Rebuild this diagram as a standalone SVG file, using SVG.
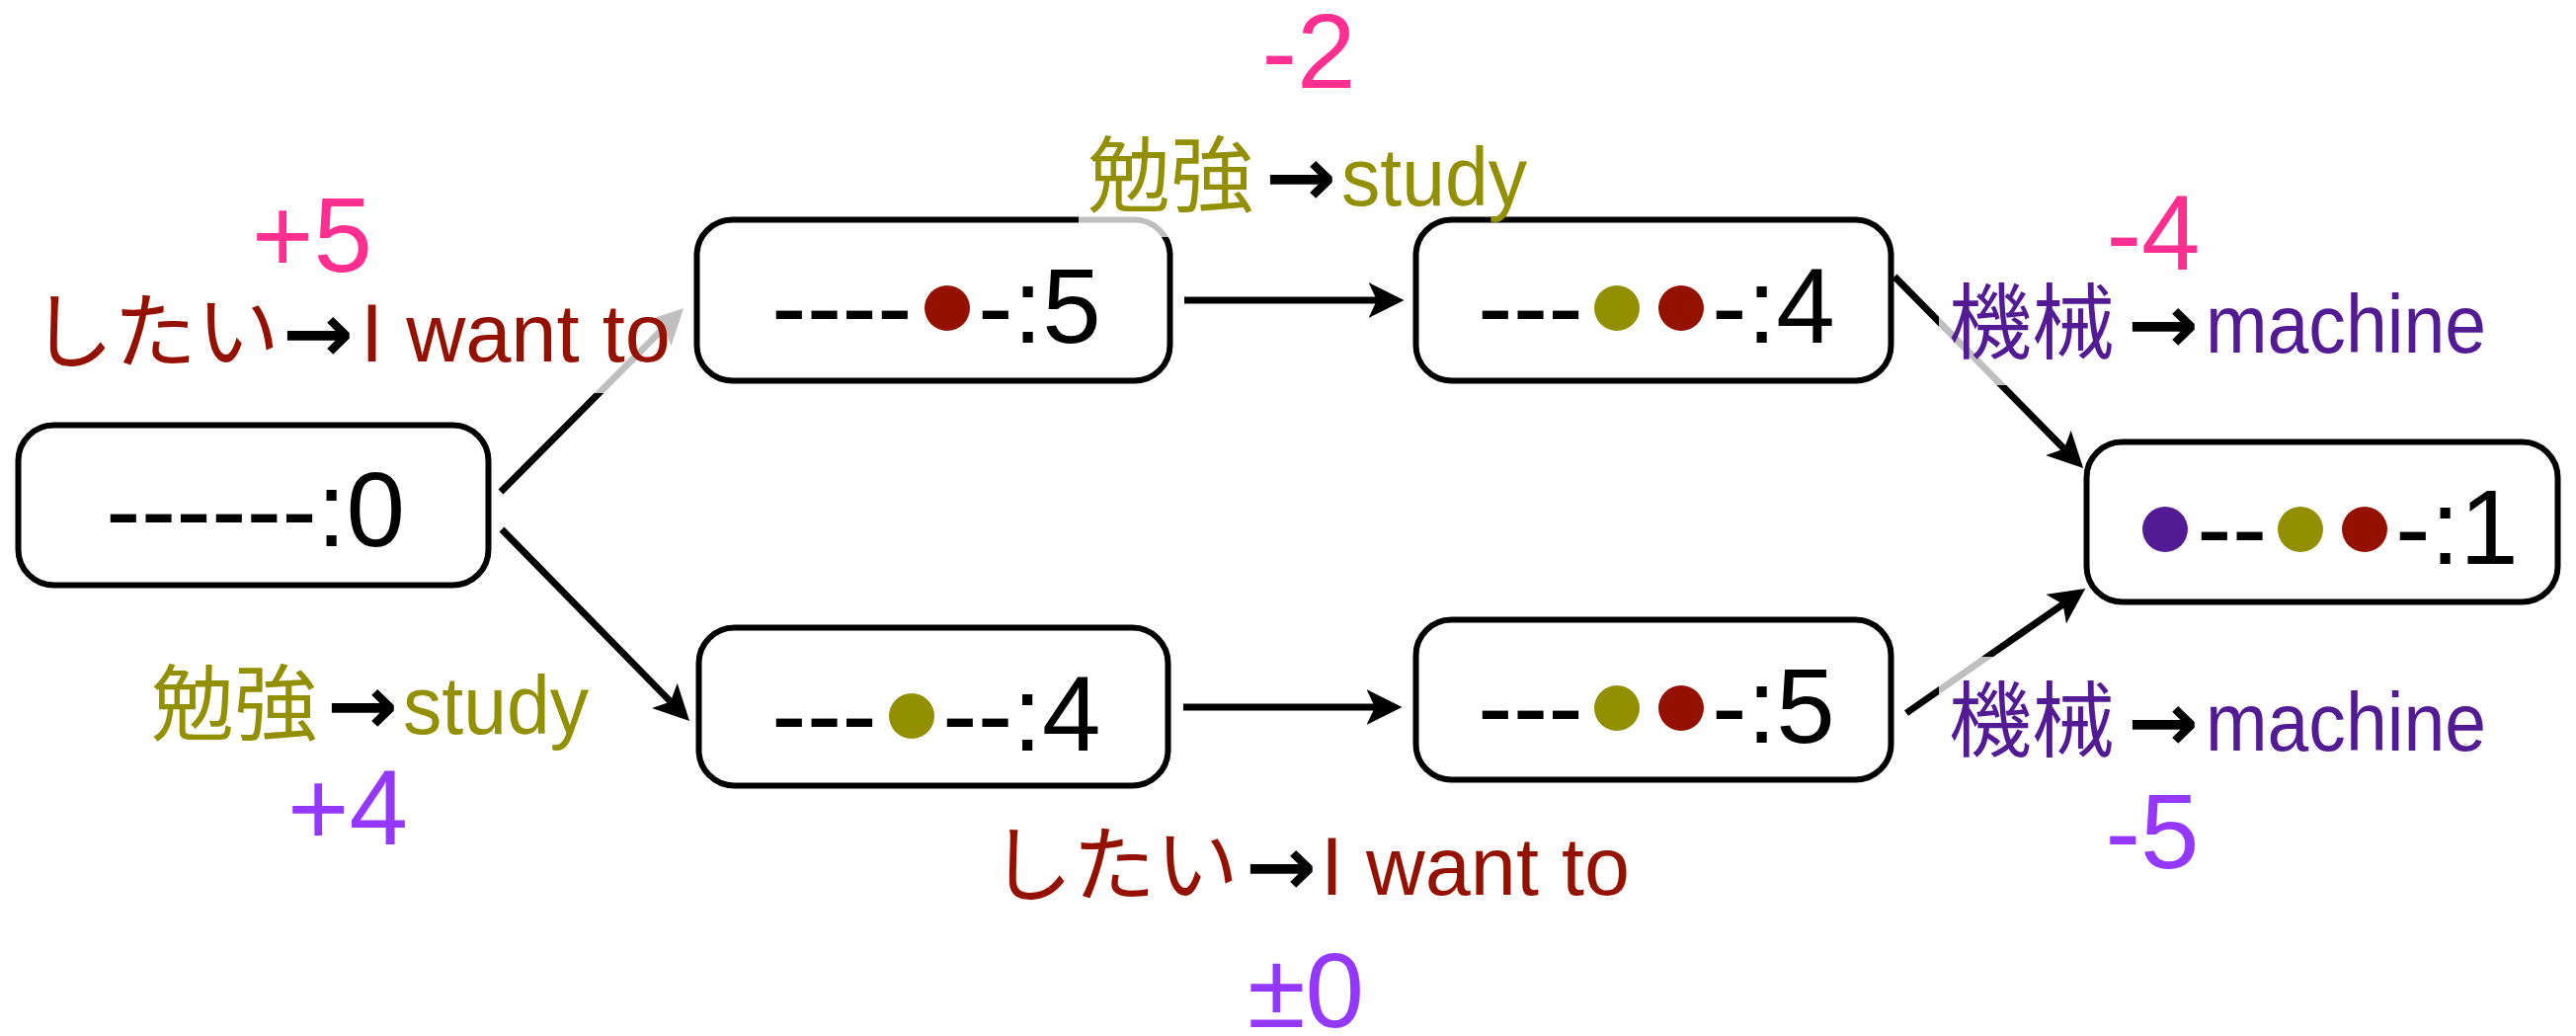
<svg xmlns="http://www.w3.org/2000/svg" width="2608" height="1049" viewBox="0 0 2608 1049">
<style>
.box{fill:#fff;stroke:#000;stroke-width:6}
.nt{font-family:"Liberation Sans",Arial,sans-serif;font-size:107px;fill:#000}
.conn{stroke:#000;stroke-width:7;fill:none;marker-end:url(#ah)}
.lbg{fill:#fff;fill-opacity:0.75}
.lab{font-family:"Liberation Sans",Arial,sans-serif;font-size:84px}
.jp{font-family:"Noto Sans CJK JP",sans-serif}
.arr{fill:#000;font-family:"DejaVu Sans",sans-serif;font-weight:bold}
.num{font-family:"Liberation Sans",Arial,sans-serif;font-size:107px;text-anchor:middle}
.red{fill:#941100}.olive{fill:#929000}.grape{fill:#531B93}.pink{fill:#FF2F92}.lav{fill:#9437FF}
</style>
<defs>
<marker id="ah" markerUnits="userSpaceOnUse" markerWidth="36" markerHeight="36" viewBox="0 0 34 34" refX="8" refY="17" orient="auto"><path d="M0,0 L34,17 L0,34 L8,17 Z" fill="#000"/></marker>
</defs>
<rect width="2608" height="1049" fill="#fff"/>
<g id="node0">
<rect class="box" x="18.5" y="430.5" width="476" height="162" rx="36"/>
<text class="nt" x="107" y="553">------:0</text>
</g>
<g id="nodeA">
<rect class="box" x="705.5" y="222.5" width="479" height="163" rx="36"/>
<text class="nt" y="347"><tspan x="781">----</tspan><tspan x="990">-:5</tspan></text>
<circle class="red" cx="959" cy="312" r="23"/>
</g>
<g id="nodeB">
<rect class="box" x="1433.5" y="222.5" width="481" height="163" rx="36"/>
<text class="nt" y="347"><tspan x="1496">---</tspan><tspan x="1733">-:4</tspan></text>
<circle class="olive" cx="1637" cy="312" r="23"/>
<circle class="red" cx="1702" cy="312" r="23"/>
</g>
<g id="nodeC">
<rect class="box" x="707.5" y="635.5" width="475" height="160" rx="36"/>
<text class="nt" y="760"><tspan x="781">---</tspan><tspan x="954">--:4</tspan></text>
<circle class="olive" cx="923" cy="725" r="23"/>
</g>
<g id="nodeD">
<rect class="box" x="1433.5" y="627.5" width="481" height="162" rx="36"/>
<text class="nt" y="752"><tspan x="1496">---</tspan><tspan x="1733">-:5</tspan></text>
<circle class="olive" cx="1637" cy="717" r="23"/>
<circle class="red" cx="1702" cy="717" r="23"/>
</g>
<g id="nodeE">
<rect class="box" x="2112.5" y="447.5" width="477" height="162" rx="36"/>
<text class="nt" y="571"><tspan x="2224">--</tspan><tspan x="2425">-:1</tspan></text>
<circle class="grape" cx="2192" cy="536" r="23"/>
<circle class="olive" cx="2329" cy="536" r="23"/>
<circle class="red" cx="2394" cy="536" r="23"/>
</g>
<g id="connectors">
<line class="conn" x1="507" y1="498" x2="672.7" y2="331.4"/>
<line class="conn" x1="508" y1="536" x2="678.8" y2="710.4"/>
<line class="conn" x1="1199" y1="304" x2="1394" y2="304"/>
<line class="conn" x1="1198" y1="716" x2="1392" y2="716"/>
<line class="conn" x1="1918" y1="280" x2="2089.8" y2="454.5"/>
<line class="conn" x1="1930" y1="722" x2="2088.6" y2="611.8"/>
</g>
<g id="label-shitai-top">
<rect class="lbg" x="15" y="278" width="684" height="120"/>
<text class="lab red" y="366"><tspan class="jp" x="31">したい</tspan><tspan class="arr" x="286" textLength="72" lengthAdjust="spacingAndGlyphs">→</tspan><tspan x="365" textLength="314" lengthAdjust="spacingAndGlyphs">I want to</tspan></text>
</g>
<g id="label-benkyo-top">
<rect class="lbg" x="1092" y="112" width="328" height="128"/>
<text class="lab olive" y="208"><tspan class="jp" x="1101">勉強</tspan><tspan class="arr" x="1281" textLength="72" lengthAdjust="spacingAndGlyphs">→</tspan><tspan x="1358" textLength="188" lengthAdjust="spacingAndGlyphs">study</tspan></text>
</g>
<g id="label-kikai-top">
<rect class="lbg" x="1963" y="262" width="567" height="128"/>
<text class="lab grape" y="357"><tspan class="jp" x="1973">機械</tspan><tspan class="arr" x="2154" textLength="72" lengthAdjust="spacingAndGlyphs">→</tspan><tspan x="2233" textLength="284" lengthAdjust="spacingAndGlyphs">machine</tspan></text>
</g>
<g id="label-kikai-bottom">
<rect class="lbg" x="1963" y="665" width="567" height="131"/>
<text class="lab grape" y="760"><tspan class="jp" x="1973">機械</tspan><tspan class="arr" x="2154" textLength="72" lengthAdjust="spacingAndGlyphs">→</tspan><tspan x="2233" textLength="284" lengthAdjust="spacingAndGlyphs">machine</tspan></text>
</g>
<g id="label-benkyo-bottom">
<rect class="lbg" x="145" y="648" width="460" height="131"/>
<text class="lab olive" y="743"><tspan class="jp" x="153">勉強</tspan><tspan class="arr" x="331" textLength="72" lengthAdjust="spacingAndGlyphs">→</tspan><tspan x="408" textLength="188" lengthAdjust="spacingAndGlyphs">study</tspan></text>
</g>
<g id="label-shitai-bottom">
<rect class="lbg" x="995" y="811" width="670" height="131"/>
<text class="lab red" y="906"><tspan class="jp" x="1002">したい</tspan><tspan class="arr" x="1261" textLength="72" lengthAdjust="spacingAndGlyphs">→</tspan><tspan x="1337" textLength="313" lengthAdjust="spacingAndGlyphs">I want to</tspan></text>
</g>
<g id="scores">
<text class="num pink" x="316" y="275">+5</text>
<text class="num pink" x="1325" y="89">-2</text>
<text class="num pink" x="2180" y="273">-4</text>
<text class="num lav" x="352" y="855">+4</text>
<text class="num lav" x="1322" y="1040">±0</text>
<text class="num lav" x="2179" y="879">-5</text>
</g>
</svg>
